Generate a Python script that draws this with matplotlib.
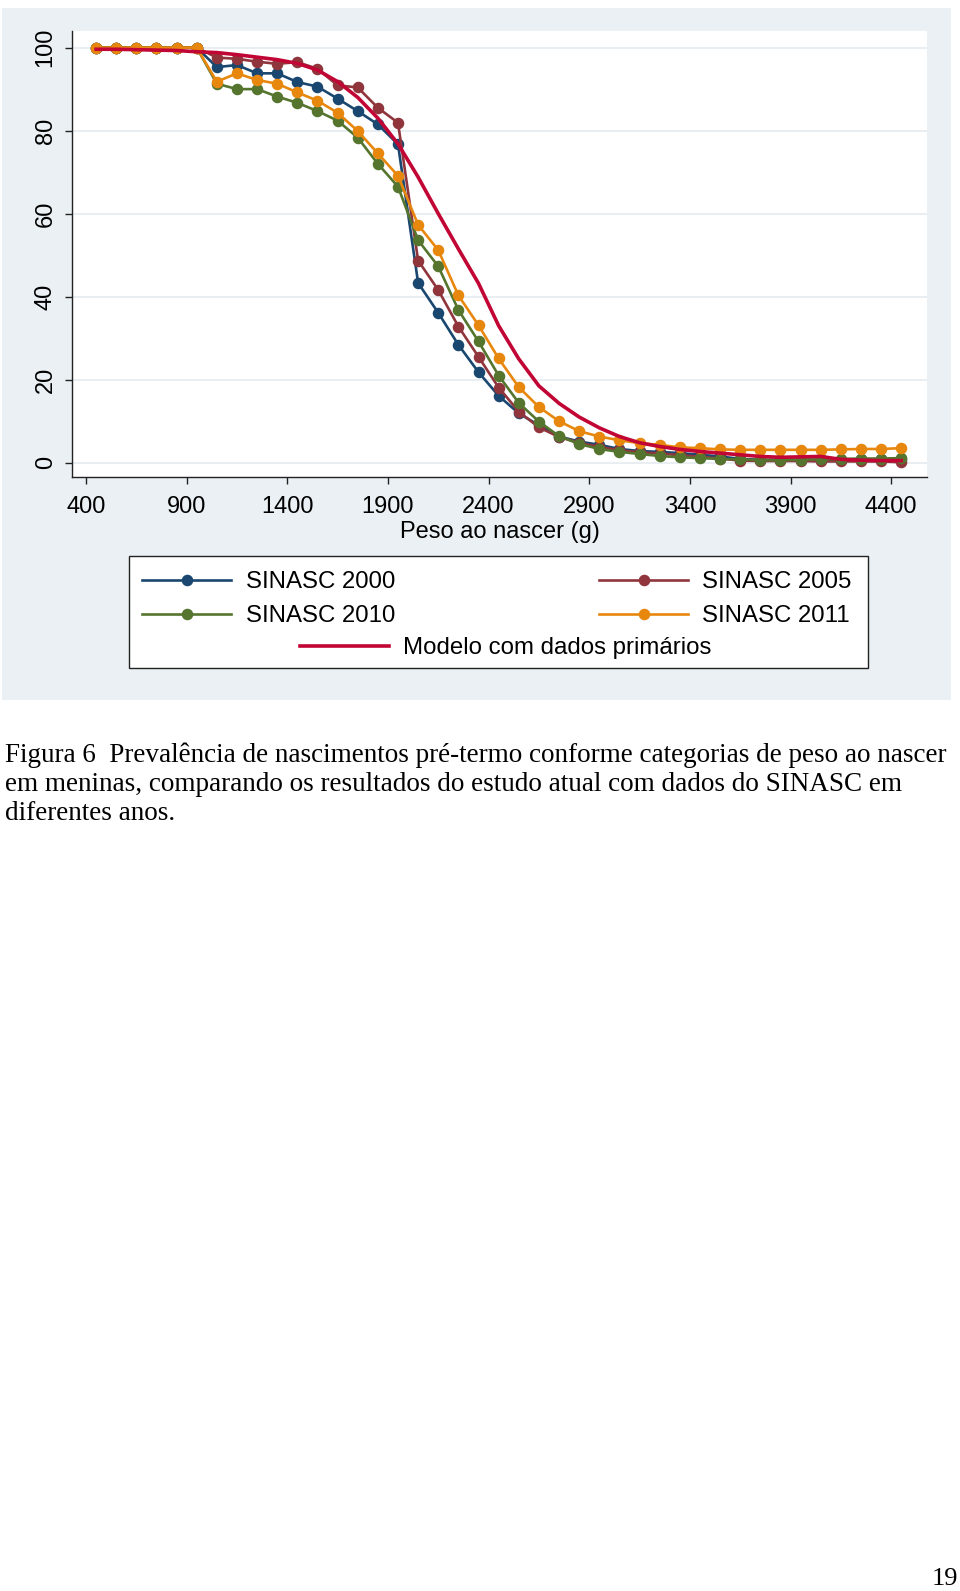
import matplotlib
matplotlib.use("Agg")
import matplotlib.pyplot as plt
from matplotlib.patches import Rectangle
import numpy as np

# birth weight class midpoints (g)
peso = list(range(450, 4451, 100))

sinasc_2000 = [100, 100, 100, 100, 100, 100,
               95.3, 95.8, 93.8, 93.8, 91.7, 90.6, 87.7, 84.7, 81.5, 76.7,
               43.3, 36.1, 28.4, 21.8, 16.1, 11.9, 9.0, 6.3, 5.1, 4.3,
               3.3, 2.8, 2.6, 2.3, 1.9, 1.5, 0.9, 0.7, 0.7, 0.7,
               0.7, 0.7, 0.8, 0.8, 0.8]
sinasc_2005 = [100, 100, 100, 100, 100, 100,
               97.6, 97.3, 96.6, 96.1, 96.5, 94.9, 90.9, 90.4, 85.5, 81.9,
               48.7, 41.6, 32.8, 25.5, 18.1, 12.3, 8.5, 6.2, 4.8, 3.8,
               3.0, 2.5, 2.2, 1.8, 1.4, 1.0, 0.5, 0.4, 0.4, 0.4,
               0.3, 0.3, 0.3, 0.3, 0.1]
sinasc_2010 = [100, 100, 100, 100, 100, 100,
               91.3, 90.0, 90.0, 88.2, 86.7, 84.7, 82.4, 78.3, 72.0, 66.5,
               53.6, 47.3, 36.8, 29.2, 21.0, 14.4, 9.9, 6.4, 4.5, 3.3,
               2.6, 2.1, 1.6, 1.3, 1.1, 0.9, 0.8, 0.6, 0.6, 0.7,
               0.8, 0.9, 1.0, 1.0, 1.1]
sinasc_2011 = [100, 100, 100, 100, 100, 100,
               91.8, 93.8, 92.2, 91.3, 89.2, 87.2, 84.3, 79.9, 74.5, 69.1,
               57.3, 51.2, 40.3, 33.1, 25.1, 18.2, 13.4, 10.0, 7.6, 6.3,
               5.4, 4.7, 4.3, 3.7, 3.5, 3.2, 3.1, 3.1, 3.1, 3.1,
               3.1, 3.2, 3.3, 3.3, 3.5]
modelo = [99.6, 99.6, 99.5, 99.4, 99.3, 99.0,
          98.8, 98.3, 97.7, 97.1, 96.2, 94.6, 91.8, 88.0, 83.0, 76.8,
          68.8, 60.0, 51.5, 43.2, 33.0, 25.0, 18.5, 14.3, 11.0, 8.4,
          6.3, 4.8, 3.9, 3.2, 2.7, 2.3, 1.9, 1.5, 1.3, 1.4,
          1.5, 0.8, 0.6, 0.5, 0.5]

series_labels = ["SINASC 2000", "SINASC 2005", "SINASC 2010", "SINASC 2011"]
series_colors = ["#1a476f", "#90353b", "#55752f", "#e8870e"]
model_label = "Modelo com dados primários"
model_color = "#c10534"

xticks = list(range(400, 4401, 500))
yticks = list(range(0, 101, 20))
xlabel = "Peso ao nascer (g)"

caption = ["Figura 6  Prevalência de nascimentos pré-termo conforme categorias de peso ao nascer",
           "em meninas, comparando os resultados do estudo atual com dados do SINASC em",
           "diferentes anos."]
page_no = "19"

W, H = 960, 1591
bg = "#eaf0f3"

plt.rcParams['font.family'] = ['Liberation Sans', 'DejaVu Sans']

fig = plt.figure(figsize=(W / 100, H / 100), dpi=100)
fig.patch.set_facecolor("white")

# stata-like graph region, behind the axes
fig.patches.append(Rectangle((2 / W, 1 - 700 / H), 949 / W, 692 / H,
                             transform=fig.transFigure, facecolor=bg,
                             edgecolor="none", zorder=-1))

ax = fig.add_axes([72 / W, 1 - 477 / H, 855 / W, 446 / H])
ax.set_facecolor("white")

all_series = [sinasc_2000, sinasc_2005, sinasc_2010, sinasc_2011]
handles = []
for vals, lab, col in zip(all_series, series_labels, series_colors):
    h, = ax.plot(peso, vals, "-o", color=col, lw=1.9, markersize=7.3,
                 label=lab, zorder=3)
    handles.append(h)
hm, = ax.plot(peso, modelo, "-", color=model_color, lw=2.6,
              label=model_label, zorder=4)

ax.set_xlim(330.5, 4578)
ax.set_ylim(-3.45, 104.0)
ax.set_xticks(xticks)
ax.set_yticks(yticks)
ax.grid(axis="y", color="#e6edf0", lw=1.3, zorder=0)
ax.set_axisbelow(True)
for s in ["top", "right"]:
    ax.spines[s].set_visible(False)
for s in ["left", "bottom"]:
    ax.spines[s].set_color("#222222")
    ax.spines[s].set_linewidth(1.0)
ax.tick_params(axis="both", labelsize=17, length=5, width=1, color="#222222")
ax.tick_params(axis="x", pad=9)
ax.tick_params(axis="y", pad=6)
for t in ax.get_yticklabels():
    t.set_rotation(90)
    t.set_va("center")
ax.set_xlabel(xlabel, fontsize=17, labelpad=2)

# legend frame
fig.patches.append(Rectangle((129 / W, 1 - 668 / H), 739 / W, 112 / H,
                             transform=fig.transFigure, facecolor="white",
                             edgecolor="#222222", lw=1.0, zorder=1))
order = [0, 2, 1, 3]
leg1 = fig.legend([handles[i] for i in order], [series_labels[i] for i in order],
                  ncol=2, loc="center", bbox_to_anchor=(497 / W, 1 - 599 / H),
                  frameon=False, fontsize=17.3, handlelength=3.7, handletextpad=0.6,
                  columnspacing=8.5, borderpad=0, labelspacing=0.5)
leg2 = fig.legend([hm], [model_label], loc="center",
                  bbox_to_anchor=(506 / W, 1 - 648 / H), frameon=False,
                  fontsize=17.3, handlelength=3.7, handletextpad=0.6, borderpad=0)
leg1.set_zorder(2)
leg2.set_zorder(2)

for i, line in enumerate(caption):
    fig.text(5 / W, 1 - (755 + 29.5 * i) / H, line, ha="left", va="center",
             fontsize=19.5, family=["Liberation Serif", "DejaVu Serif"])
fig.text(958 / W, 1 - 1579 / H, page_no, ha="right", va="center",
         fontsize=19, family=["Liberation Serif", "DejaVu Serif"])

fig.savefig("out.png", dpi=100)
